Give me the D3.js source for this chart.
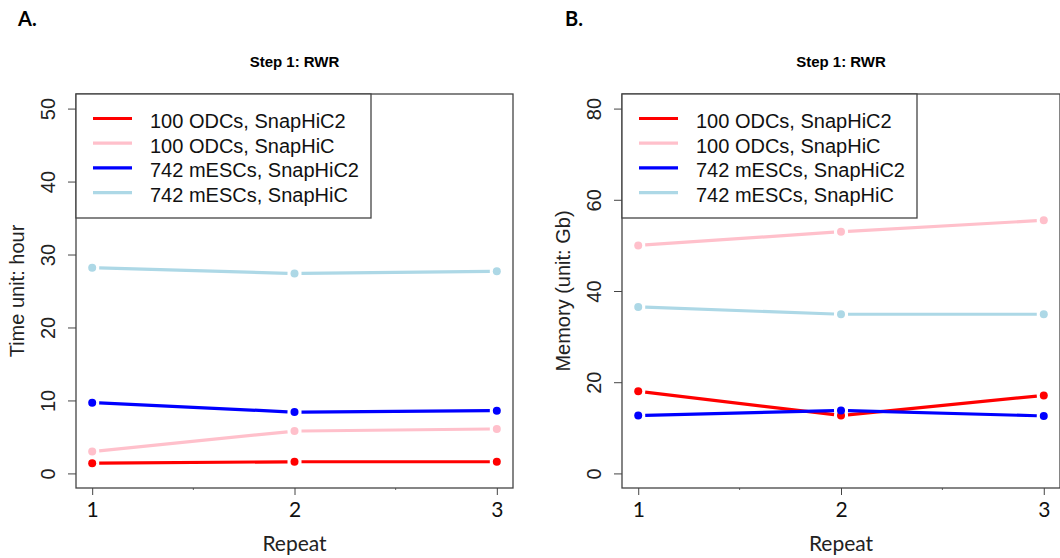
<!DOCTYPE html>
<html>
<head>
<meta charset="utf-8">
<script src="https://cdn.jsdelivr.net/npm/d3@7"></script>
<style>
  body { margin: 0; background: #fff; }
  svg { display: block; }
</style>
</head>
<body>
<svg id="chart" width="1060" height="558"></svg>
<script>
// data
var repeats = [1, 2, 3];
var seriesNames = ["100 ODCs, SnapHiC2", "100 ODCs, SnapHiC", "742 mESCs, SnapHiC2", "742 mESCs, SnapHiC"];
var seriesColors = ["#ff0000", "#ffc0cb", "#0000ff", "#add8e6"];

// A. time (hour)
var timeOdcSnap2 = [1.4, 1.6, 1.6];
var timeOdcSnap = [3.0, 5.8, 6.1];
var timeEscSnap2 = [9.7, 8.4, 8.6];
var timeEscSnap = [28.2, 27.4, 27.7];

// B. memory (Gb)
var memOdcSnap2 = [18.0, 12.7, 17.1];
var memOdcSnap = [50.0, 53.0, 55.5];
var memEscSnap2 = [12.7, 13.8, 12.6];
var memEscSnap = [36.5, 34.9, 34.9];

var timeTicks = [0, 10, 20, 30, 40, 50];
var memTicks = [0, 20, 40, 60, 80];

var svg = d3.select("#chart");
var sans = "'Liberation Sans', Arial, sans-serif";
var calib = "Lato, 'Open Sans', sans-serif";

function drawPanel(p) {
	var g = svg.append("g");
	var x = d3.scaleLinear().domain([0.92, 3.08]).range([p.left, p.right]);
	var pad = (p.yMax - p.yMin) * 0.04;
	var y = d3.scaleLinear().domain([p.yMin - pad, p.yMax + pad]).range([488, 94]);

	// panel letter
	g.append("text")
		.attr("x", p.letterX)
		.attr("y", 26)
		.attr("font-family", calib)
		.attr("font-weight", "bold")
		.attr("font-size", "20px")
		.text(p.letter);

	// title
	g.append("text")
		.attr("x", (p.left + p.right) / 2)
		.attr("y", 67)
		.attr("text-anchor", "middle")
		.attr("font-family", sans)
		.attr("font-weight", "bold")
		.attr("font-size", "15px")
		.text("Step 1: RWR");

	// y axis
	var yAxis = g.append("g")
		.attr("transform", "translate(" + p.left + ",0)")
		.call(d3.axisLeft(y).tickValues(p.ticks).tickSize(8).tickSizeOuter(0));
	yAxis.select(".domain").remove();
	yAxis.selectAll("line").attr("stroke", "#444");
	yAxis.selectAll("text")
		.attr("x", null)
		.attr("dy", null)
		.attr("text-anchor", "middle")
		.attr("transform", "translate(-21,0) rotate(-90)")
		.attr("font-family", sans)
		.attr("font-size", "20px")
		.attr("fill", "#222");

	// x axis
	var xAxis = g.append("g")
		.attr("transform", "translate(0,488)")
		.call(d3.axisBottom(x).tickValues(repeats).tickSize(7).tickSizeOuter(0).tickFormat(d3.format("d")));
	xAxis.select(".domain").remove();
	xAxis.selectAll("line").attr("stroke", "#444");
	xAxis.selectAll("text")
		.attr("y", 29)
		.attr("dy", null)
		.attr("font-family", calib)
		.attr("font-size", "21px")
		.attr("fill", "#111");
	// small half-way ticks
	g.selectAll(".minor")
		.data([1.5, 2.5])
		.enter()
		.append("line")
		.attr("x1", function (d) { return x(d); })
		.attr("x2", function (d) { return x(d); })
		.attr("y1", 488)
		.attr("y2", 490)
		.attr("stroke", "#666");

	// axis titles
	g.append("text")
		.attr("transform", "translate(" + (p.left - 52) + "," + y((p.yMin + p.yMax) / 2) + ") rotate(-90)")
		.attr("text-anchor", "middle")
		.attr("font-family", sans)
		.attr("font-size", "20px")
		.attr("fill", "#222")
		.text(p.yLabel);
	g.append("text")
		.attr("x", x(2))
		.attr("y", 551)
		.attr("text-anchor", "middle")
		.attr("font-family", calib)
		.attr("font-size", "21px")
		.attr("fill", "#222")
		.text("Repeat");

	// lines with gaps around the points (type = "b")
	var gap = 7;
	p.series.forEach(function (vals, i) {
		var pts = repeats.map(function (r, j) { return [x(r), y(vals[j])]; });
		for (var j = 0; j < pts.length - 1; j++) {
			var a = pts[j], b = pts[j + 1];
			var dx = b[0] - a[0], dy = b[1] - a[1];
			var len = Math.sqrt(dx * dx + dy * dy);
			g.append("line")
				.attr("x1", a[0] + dx / len * gap)
				.attr("y1", a[1] + dy / len * gap)
				.attr("x2", b[0] - dx / len * gap)
				.attr("y2", b[1] - dy / len * gap)
				.attr("stroke", seriesColors[i])
				.attr("stroke-width", 3.2);
		}
		g.selectAll(".pt" + i)
			.data(vals)
			.enter()
			.append("circle")
			.attr("cx", function (d, j) { return x(repeats[j]); })
			.attr("cy", function (d) { return y(d); })
			.attr("r", 4)
			.attr("fill", seriesColors[i]);
	});

	// box
	g.append("rect")
		.attr("x", p.left)
		.attr("y", 94)
		.attr("width", p.right - p.left)
		.attr("height", 488 - 94)
		.attr("fill", "none")
		.attr("stroke", "#444")
		.attr("stroke-width", 1.3);

	// legend
	var lg = g.append("g").attr("transform", "translate(" + p.left + ",94)");
	lg.append("rect")
		.attr("width", 295)
		.attr("height", 124)
		.attr("fill", "#fff")
		.attr("stroke", "#444")
		.attr("stroke-width", 1.3);
	seriesNames.forEach(function (name, i) {
		var ly = 24.5 + i * 24.7;
		lg.append("line")
			.attr("x1", 17)
			.attr("x2", 56)
			.attr("y1", ly)
			.attr("y2", ly)
			.attr("stroke", seriesColors[i])
			.attr("stroke-width", 3.2);
		lg.append("text")
			.attr("x", 74)
			.attr("y", ly + 9.5)
			.attr("font-family", sans)
			.attr("font-size", "20px")
			.attr("fill", "#111")
			.text(name);
	});
}

drawPanel({
	letter: "A.", letterX: 18,
	left: 76, right: 513,
	yMin: 0, yMax: 50, ticks: timeTicks,
	yLabel: "Time unit: hour",
	series: [timeOdcSnap2, timeOdcSnap, timeEscSnap2, timeEscSnap]
});

drawPanel({
	letter: "B.", letterX: 565,
	left: 622, right: 1060,
	yMin: 0, yMax: 80, ticks: memTicks,
	yLabel: "Memory (unit: Gb)",
	series: [memOdcSnap2, memOdcSnap, memEscSnap2, memEscSnap]
});
</script>
</body>
</html>
